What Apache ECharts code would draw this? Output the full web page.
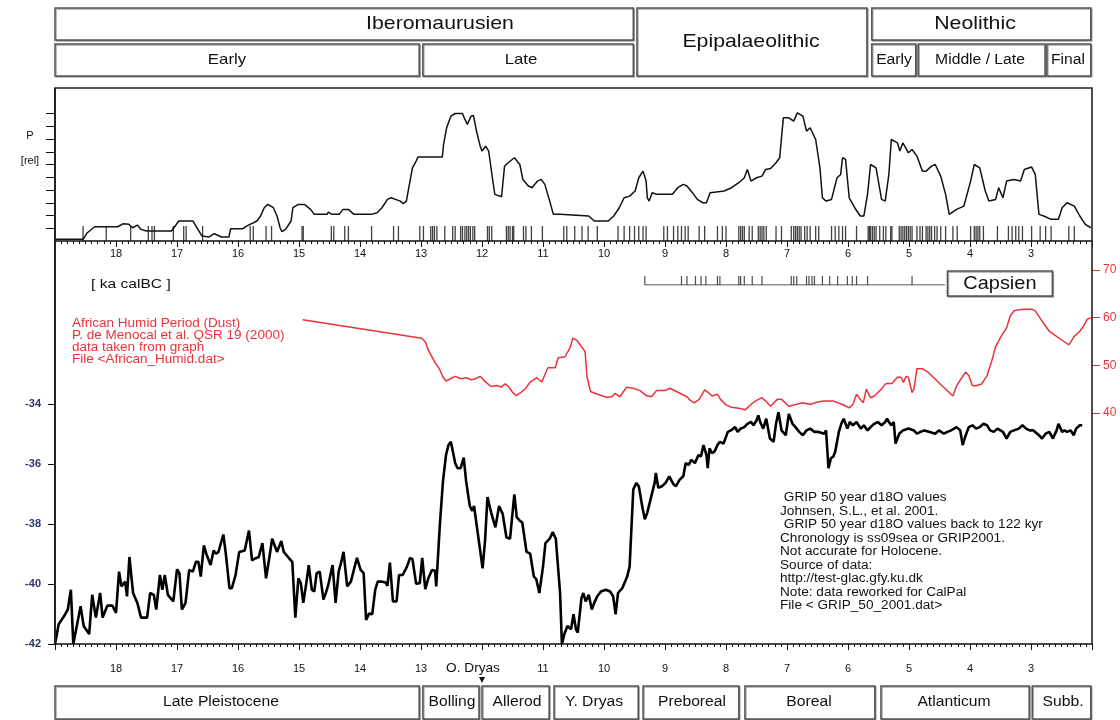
<!DOCTYPE html>
<html><head><meta charset="utf-8">
<script src="https://cdn.jsdelivr.net/npm/echarts@6/dist/echarts.min.js"></script>
<style>html,body{margin:0;padding:0;background:#fff}#c{width:1120px;height:720px}</style>
</head><body><div id="c"></div>
<script>
// ---------- DATA (ka calBC) ----------
const axisMinKa = 2, axisMaxKa = 19;
const pLabelTicks = [1,2,3,4,5,6,7,8,9,10];

// P [rel] curve (upper panel)
const pollenCurve = [[19.0,0.13],[18.54,0.13],[18.47,0.65],[18.35,1.12],[17.97,1.12],[17.94,1.04],[17.88,1.36],[17.79,1.31],[17.73,1.04],[17.65,1.25],[17.59,0.91],[17.5,0.78],[17.09,0.78],[16.97,1.57],[16.74,1.57],[16.59,0.39],[16.48,0.31],[16.39,0.57],[16.27,0.31],[16.15,0.31],[16.12,0.97],[15.92,0.97],[15.86,1.17],[15.8,1.31],[15.69,1.57],[15.63,1.96],[15.57,2.61],[15.51,2.87],[15.42,2.61],[15.36,1.96],[15.31,1.04],[15.28,0.73],[15.22,0.91],[15.13,1.57],[15.1,2.61],[15.01,2.87],[14.91,2.87],[14.81,2.48],[14.75,2.09],[14.54,2.09],[14.52,2.27],[14.46,2.09],[14.34,2.09],[14.28,2.48],[14.19,2.48],[14.1,2.09],[13.81,2.09],[13.72,2.22],[13.64,2.61],[13.55,3.26],[13.49,3.39],[13.34,3.13],[13.29,2.92],[13.24,3.13],[13.2,4.18],[13.14,5.74],[13.08,6.27],[13.05,6.58],[12.65,6.58],[12.63,7.57],[12.58,8.88],[12.51,9.79],[12.44,10.0],[12.32,10.0],[12.29,9.66],[12.24,9.14],[12.18,9.79],[12.14,9.84],[12.09,8.62],[12.03,7.44],[12.0,7.05],[11.94,7.44],[11.89,7.05],[11.83,4.96],[11.79,3.66],[11.68,3.47],[11.63,5.87],[11.59,6.06],[11.47,6.53],[11.38,6.0],[11.33,4.83],[11.24,4.31],[11.18,4.18],[11.09,4.7],[11.03,4.83],[10.97,4.44],[10.89,3.13],[10.83,2.09],[10.72,2.09],[10.25,1.96],[10.16,1.57],[9.93,1.57],[9.84,1.96],[9.75,2.61],[9.67,3.39],[9.58,3.52],[9.49,3.92],[9.43,4.96],[9.36,5.48],[9.31,4.7],[9.29,3.39],[9.26,3.13],[9.21,3.79],[9.14,3.66],[8.88,3.66],[8.79,4.18],[8.7,4.44],[8.64,4.31],[8.55,3.79],[8.47,3.26],[8.38,3.0],[8.32,3.0],[8.26,3.79],[8.03,3.92],[7.91,4.18],[7.79,4.57],[7.7,4.96],[7.65,5.61],[7.59,4.7],[7.5,4.96],[7.41,5.09],[7.35,5.61],[7.27,5.69],[7.18,6.14],[7.12,6.53],[7.06,9.66],[6.97,9.66],[6.89,9.4],[6.83,10.05],[6.74,9.79],[6.68,8.62],[6.62,8.88],[6.53,7.96],[6.46,5.74],[6.42,3.39],[6.36,3.13],[6.27,3.26],[6.18,4.96],[6.12,5.22],[6.09,6.53],[6.04,6.4],[5.98,3.39],[5.89,2.61],[5.8,1.96],[5.74,1.96],[5.68,3.66],[5.63,6.0],[5.54,5.74],[5.45,3.26],[5.39,3.13],[5.33,5.22],[5.29,7.96],[5.19,7.7],[5.15,7.05],[5.1,7.7],[5.01,6.92],[4.95,7.18],[4.87,6.66],[4.78,5.48],[4.72,5.48],[4.63,5.87],[4.57,6.0],[4.48,5.09],[4.4,3.66],[4.34,2.09],[4.22,2.48],[4.1,2.74],[3.99,4.7],[3.93,6.0],[3.84,5.74],[3.75,3.92],[3.69,3.13],[3.58,3.26],[3.53,4.18],[3.46,3.39],[3.4,4.7],[3.28,4.83],[3.17,4.7],[3.11,5.61],[2.99,5.8],[2.93,5.22],[2.87,2.09],[2.79,1.96],[2.67,1.7],[2.55,1.7],[2.49,2.61],[2.41,3.0],[2.29,2.74],[2.2,1.96],[2.11,1.31],[2.02,1.04]];

// 14C dates (bar code under the P curve)
const dateMarks = [18.54,18.16,17.76,17.47,17.41,17.37,17.06,16.89,16.85,16.58,15.8,15.75,15.54,15.45,14.95,14.93,14.47,14.43,14.25,14.19,13.81,13.45,13.37,13.02,12.96,12.84,12.81,12.78,12.74,12.61,12.48,12.44,12.35,12.32,12.28,12.25,12.22,12.19,12.15,12.12,11.91,11.88,11.84,11.6,11.57,11.54,11.5,11.48,11.32,11.28,11.19,11.01,10.66,10.61,10.48,10.36,10.26,10.11,9.77,9.67,9.58,9.5,9.43,9.36,9.31,9.02,8.96,8.86,8.79,8.73,8.67,8.62,8.44,8.35,8.14,8.06,8.0,7.79,7.76,7.73,7.7,7.62,7.57,7.47,7.44,7.41,7.38,7.34,7.18,7.09,6.93,6.89,6.86,6.83,6.8,6.77,6.71,6.67,6.62,6.53,6.48,6.27,6.21,6.15,6.09,6.04,5.86,5.67,5.65,5.63,5.6,5.57,5.54,5.48,5.42,5.38,5.3,5.28,5.16,5.13,5.1,5.07,5.04,5.01,4.98,4.95,4.87,4.82,4.78,4.72,4.69,4.66,4.63,4.58,4.54,4.48,4.4,4.28,4.21,3.99,3.93,3.9,3.87,3.84,3.78,3.55,3.37,3.31,3.25,3.2,3.14,2.99,2.85,2.76,2.67,2.38,2.29];

// Capsien dates
const capsienSpan = [9.33, 4.41];
const capsienDates = [9.33,8.73,8.64,8.5,8.41,8.33,8.14,8.1,7.79,7.76,7.7,7.57,7.41,6.93,6.89,6.84,6.68,6.64,6.59,6.55,6.42,6.3,6.17,6.01,5.93,5.86,5.68,4.95];
const capsienLabel = ['Capsien', 4.37, 2.65];

// African Humid Period (Dust), de Menocal 2000
const africanHumid = [[14.94,59.54],[12.99,55.67],[12.93,54.96],[12.88,53.19],[12.82,51.77],[12.76,50.35],[12.7,49.3],[12.64,47.54],[12.59,46.7],[12.52,47.19],[12.44,47.69],[12.35,47.19],[12.26,47.4],[12.17,46.98],[12.11,47.19],[12.03,47.69],[11.94,46.48],[11.85,45.56],[11.76,45.77],[11.68,45.42],[11.62,46.13],[11.56,45.42],[11.5,44.35],[11.44,43.65],[11.38,44.15],[11.29,45.06],[11.21,46.5],[11.1,47.4],[11.02,46.5],[10.92,49.5],[10.8,49.5],[10.75,51.6],[10.64,51.8],[10.56,53.6],[10.51,55.7],[10.45,55.3],[10.31,52.9],[10.28,47.7],[10.22,44.5],[10.12,44.0],[9.96,43.3],[9.87,43.4],[9.82,44.1],[9.74,43.4],[9.63,45.4],[9.52,45.2],[9.41,44.7],[9.3,43.6],[9.22,43.4],[9.14,44.7],[9.0,44.7],[8.92,45.2],[8.78,44.3],[8.64,43.4],[8.59,42.7],[8.52,42.14],[8.44,42.86],[8.35,44.86],[8.29,44.29],[8.23,43.57],[8.14,43.93],[8.09,42.86],[8.0,41.7],[7.91,41.2],[7.79,41.0],[7.68,40.7],[7.56,42.14],[7.47,42.86],[7.41,43.21],[7.35,42.5],[7.27,41.43],[7.16,42.86],[7.09,42.86],[6.97,41.43],[6.86,41.79],[6.74,42.14],[6.62,41.79],[6.5,42.29],[6.39,42.5],[6.24,42.5],[6.09,41.79],[5.98,41.07],[5.92,41.79],[5.86,43.93],[5.8,42.86],[5.75,42.14],[5.7,45.0],[5.63,43.21],[5.57,43.57],[5.51,44.29],[5.45,45.0],[5.39,46.07],[5.35,46.21],[5.28,46.21],[5.19,47.5],[5.13,47.5],[5.09,46.43],[5.05,47.64],[5.01,47.5],[4.95,44.29],[4.92,45.0],[4.87,49.29],[4.84,49.29],[4.78,49.29],[4.69,48.57],[4.57,47.14],[4.46,45.71],[4.34,44.29],[4.28,43.57],[4.22,45.71],[4.13,47.5],[4.07,48.57],[4.02,47.86],[3.96,45.71],[3.9,45.71],[3.81,46.07],[3.72,47.86],[3.64,51.07],[3.58,53.93],[3.49,56.07],[3.4,57.86],[3.34,60.36],[3.28,61.43],[3.2,61.64],[3.11,61.79],[2.99,61.79],[2.93,61.43],[2.82,59.29],[2.7,57.14],[2.58,56.07],[2.46,55.0],[2.38,54.29],[2.29,56.07],[2.2,57.14],[2.14,58.21],[2.08,59.64],[2.02,60.0]];

// GRIP 50 year d18O values
const gripD18O = [[19.0,-42.0],[18.94,-41.34],[18.85,-41.07],[18.79,-40.85],[18.74,-40.19],[18.7,-42.0],[18.67,-42.0],[18.58,-40.74],[18.53,-41.4],[18.44,-41.67],[18.39,-40.36],[18.33,-41.12],[18.31,-41.12],[18.26,-40.3],[18.22,-41.12],[18.14,-40.72],[18.06,-40.72],[18.0,-40.96],[17.95,-39.59],[17.91,-40.08],[17.85,-39.92],[17.82,-40.41],[17.78,-39.1],[17.72,-40.3],[17.65,-40.63],[17.59,-41.12],[17.49,-41.12],[17.44,-40.3],[17.38,-40.36],[17.34,-40.85],[17.28,-39.7],[17.24,-40.19],[17.2,-39.7],[17.15,-40.36],[17.06,-40.58],[17.0,-39.51],[16.96,-39.64],[16.92,-40.85],[16.86,-40.63],[16.8,-39.53],[16.74,-39.59],[16.69,-39.26],[16.65,-39.26],[16.61,-39.75],[16.56,-38.71],[16.52,-38.99],[16.45,-39.37],[16.4,-38.88],[16.36,-38.99],[16.32,-38.93],[16.24,-38.35],[16.2,-38.99],[16.14,-40.14],[16.1,-40.14],[16.04,-39.7],[15.98,-38.93],[15.89,-38.88],[15.82,-38.22],[15.77,-39.21],[15.72,-39.15],[15.66,-39.1],[15.6,-38.64],[15.54,-39.81],[15.48,-39.04],[15.44,-38.49],[15.41,-38.46],[15.36,-38.93],[15.29,-38.57],[15.25,-38.93],[15.16,-39.15],[15.11,-39.26],[15.06,-41.12],[15.01,-39.81],[14.97,-39.97],[14.93,-40.63],[14.88,-39.97],[14.84,-39.37],[14.79,-40.19],[14.75,-40.25],[14.71,-39.64],[14.66,-39.59],[14.6,-40.52],[14.56,-40.3],[14.52,-40.03],[14.45,-39.37],[14.4,-40.63],[14.35,-39.59],[14.31,-39.29],[14.27,-38.93],[14.21,-40.08],[14.15,-39.92],[14.05,-39.13],[13.99,-39.53],[13.94,-39.64],[13.9,-41.2],[13.85,-40.98],[13.8,-41.01],[13.75,-40.19],[13.71,-39.92],[13.65,-39.92],[13.58,-39.95],[13.55,-40.06],[13.51,-39.29],[13.46,-40.58],[13.4,-40.58],[13.36,-39.7],[13.3,-39.7],[13.23,-39.42],[13.18,-39.13],[13.14,-39.17],[13.08,-39.99],[13.02,-39.97],[12.98,-39.13],[12.93,-40.17],[12.88,-39.81],[12.82,-39.53],[12.77,-39.56],[12.75,-40.08],[12.69,-38.0],[12.64,-36.58],[12.59,-35.7],[12.55,-35.37],[12.51,-35.26],[12.48,-35.21],[12.44,-35.97],[12.4,-36.14],[12.35,-36.14],[12.3,-35.79],[12.26,-36.58],[12.2,-37.4],[12.16,-37.56],[12.13,-37.4],[12.06,-38.44],[11.99,-39.48],[11.95,-38.55],[11.91,-37.1],[11.85,-37.62],[11.78,-38.11],[11.72,-37.4],[11.66,-37.67],[11.6,-38.44],[11.54,-38.49],[11.47,-37.01],[11.43,-37.78],[11.38,-37.89],[11.34,-37.95],[11.27,-38.93],[11.21,-38.99],[11.15,-39.75],[11.11,-39.84],[11.06,-40.3],[11.0,-39.42],[10.96,-38.64],[10.89,-38.49],[10.84,-38.27],[10.79,-38.49],[10.72,-40.3],[10.69,-42.0],[10.65,-41.67],[10.6,-41.4],[10.54,-41.51],[10.5,-41.01],[10.46,-41.51],[10.43,-41.62],[10.37,-40.47],[10.34,-40.3],[10.3,-40.58],[10.25,-40.36],[10.2,-40.85],[10.16,-40.63],[10.11,-40.41],[10.05,-40.25],[9.97,-40.19],[9.9,-40.25],[9.85,-40.41],[9.81,-41.01],[9.77,-40.3],[9.7,-40.14],[9.62,-39.75],[9.58,-39.42],[9.52,-36.85],[9.47,-36.63],[9.43,-36.74],[9.37,-37.45],[9.33,-37.84],[9.29,-37.62],[9.23,-37.12],[9.17,-36.63],[9.15,-36.3],[9.11,-36.79],[9.05,-36.74],[8.99,-36.63],[8.93,-36.41],[8.86,-36.68],[8.82,-36.74],[8.76,-36.52],[8.7,-36.41],[8.66,-35.97],[8.61,-36.03],[8.57,-35.86],[8.51,-35.97],[8.45,-35.7],[8.41,-35.75],[8.37,-35.37],[8.32,-35.7],[8.3,-36.14],[8.27,-35.48],[8.23,-35.64],[8.19,-35.59],[8.14,-35.37],[8.1,-35.26],[8.04,-35.32],[7.97,-34.93],[7.92,-34.88],[7.85,-34.77],[7.81,-34.93],[7.76,-34.82],[7.7,-34.77],[7.65,-34.66],[7.59,-34.6],[7.55,-34.71],[7.5,-34.55],[7.47,-34.38],[7.44,-34.6],[7.39,-34.82],[7.34,-34.49],[7.28,-35.15],[7.22,-35.26],[7.18,-34.66],[7.14,-34.27],[7.09,-34.88],[7.02,-35.04],[6.97,-34.33],[6.91,-34.66],[6.86,-34.77],[6.8,-34.93],[6.74,-35.04],[6.68,-34.88],[6.62,-34.82],[6.55,-34.93],[6.48,-34.93],[6.39,-34.99],[6.36,-34.88],[6.32,-36.14],[6.28,-35.81],[6.24,-35.75],[6.21,-35.59],[6.15,-34.93],[6.11,-34.66],[6.07,-34.49],[6.01,-34.82],[5.97,-34.6],[5.92,-34.71],[5.86,-34.6],[5.79,-34.82],[5.74,-34.71],[5.68,-34.88],[5.63,-34.77],[5.57,-34.66],[5.51,-34.6],[5.45,-34.71],[5.39,-34.6],[5.36,-34.49],[5.33,-34.6],[5.29,-34.71],[5.25,-34.6],[5.22,-35.32],[5.16,-34.99],[5.1,-34.88],[5.01,-34.82],[4.92,-34.88],[4.87,-34.99],[4.81,-34.93],[4.75,-34.88],[4.66,-34.93],[4.57,-34.99],[4.51,-34.88],[4.43,-34.99],[4.37,-34.93],[4.31,-34.88],[4.22,-34.77],[4.16,-34.88],[4.12,-35.37],[4.07,-35.04],[4.02,-34.77],[3.96,-34.71],[3.9,-34.82],[3.84,-34.77],[3.78,-34.66],[3.72,-34.71],[3.67,-34.88],[3.61,-34.93],[3.55,-34.82],[3.46,-34.93],[3.4,-35.15],[3.34,-34.93],[3.28,-34.88],[3.2,-34.82],[3.14,-34.71],[3.08,-34.82],[3.02,-34.88],[2.96,-34.88],[2.87,-35.04],[2.82,-35.15],[2.76,-34.99],[2.7,-34.93],[2.64,-35.15],[2.58,-34.88],[2.55,-34.66],[2.49,-34.93],[2.45,-34.88],[2.41,-34.93],[2.35,-34.88],[2.3,-35.04],[2.26,-34.82],[2.2,-34.71],[2.16,-34.71]];

// Cultural periods (name, from ka, to ka)
const cultureMain = [['Iberomaurusien',19,9.52],['Epipalaeolithic',9.46,5.69],['Neolithic',5.61,2.02]];
const cultureSub = [['Early',19,13.03],['Late',12.97,9.52],['Early',5.61,4.89],['Middle / Late',4.85,2.77],['Final',2.74,2.02]];
// Climate periods
const climatePeriods = [['Late Pleistocene',19,13.03],['Bolling',12.97,12.05],['Allerod',12.0,10.9],['Y. Dryas',10.82,9.44],['Preboreal',9.36,7.79],['Boreal',7.69,5.56],['Atlanticum',5.46,3.03],['Subb.',2.98,2.02]];
const oDryas = ['O. Dryas', 12.0];

const humidNotes = ['African Humid Period (Dust)','P. de Menocal et al. QSR 19 (2000)','data taken from graph','File <African_Humid.dat>'];
const gripNotes = [' GRIP 50 year d18O values','Johnsen, S.L., et al. 2001.',' GRIP 50 year d18O values back to 122 kyr','Chronology is ss09sea or GRIP2001.','Not accurate for Holocene.','Source of data:','http://test-glac.gfy.ku.dk','Note: data reworked for CalPal','File < GRIP_50_2001.dat>'];

// ---------- LAYOUT ----------
const FONT = '"Liberation Sans", Arial, sans-serif';
const RED = '#e8333a';
const L = 55, W = 1037;
// label centre x (px) for the period boxes, as placed in the original figure
const mainLabelX = [440, 751, 975];
const subLabelX = [227, 521, 894, 980, 1068];
const climateLabelX = [221, 452, 517, 594, 692, 809, 954, 1063];

const chart = echarts.init(document.getElementById('c'), null, {renderer:'canvas'});
function xAx(grid, show, labelMargin, hide12){
  return {gridIndex:grid, type:'value', min:axisMinKa, max:axisMaxKa, interval:1, inverse:true, show:show,
    axisLine:{show:true, onZero:false, lineStyle:{color:'#111', width:1.5}},
    axisTick:{show:true, length:6, lineStyle:{color:'#111', width:1}},
    minorTick:{show:true, splitNumber:10, length:3, lineStyle:{color:'#111', width:1}},
    splitLine:{show:false},
    axisLabel:{show:true, margin:labelMargin, fontFamily:FONT, fontSize:11, color:'#111',
      formatter:v => (v<3 || v>18 || (hide12 && v===12)) ? '' : String(v)}};
}
const option = {
  animation:false,
  backgroundColor:'#fff',
  grid:[
    {left:L, width:W, top:88, height:153},
    {left:L, width:W, top:275, height:10},
    {left:L, width:W, top:270, height:143},
    {left:L, width:W, top:404, height:240}
  ],
  xAxis:[xAx(0,true,7,false), xAx(1,false,0,false), xAx(2,false,0,false), xAx(3,true,19,true)],
  yAxis:[
    {gridIndex:0, type:'value', min:0, max:12, position:'left',
      axisLine:{show:false}, splitLine:{show:false}, axisLabel:{show:false},
      axisTick:{show:true, length:9, customValues:pLabelTicks, lineStyle:{color:'#111'}}},
    {gridIndex:1, type:'value', min:0, max:1, show:false},
    {gridIndex:2, type:'value', min:40, max:70, interval:10, position:'right',
      axisLine:{show:false}, splitLine:{show:false},
      axisTick:{show:true, length:8, lineStyle:{color:RED, width:1}},
      axisLabel:{color:RED, fontFamily:FONT, fontSize:12, margin:11}},
    {gridIndex:3, type:'value', min:-42, max:-34, interval:2, position:'left',
      axisLine:{show:false}, splitLine:{show:false},
      axisTick:{show:true, length:7, lineStyle:{color:'#111'}},
      axisLabel:{color:'#2d3270', fontWeight:'bold', fontFamily:FONT, fontSize:11, margin:14}}
  ],
  series:[
    {type:'line', xAxisIndex:0, yAxisIndex:0, data:pollenCurve, showSymbol:false, silent:true,
      lineStyle:{color:'#111', width:1.5}, z:3},
    {type:'scatter', xAxisIndex:0, yAxisIndex:0, data:dateMarks.map(k=>[k,0]), symbol:'rect',
      symbolSize:[1.3,15], symbolOffset:[0,-7.5], itemStyle:{color:'#111'}, silent:true, z:2},
    {type:'line', xAxisIndex:1, yAxisIndex:1, data:capsienSpan.map(k=>[k,0]), showSymbol:false, silent:true,
      lineStyle:{color:'#222', width:1}},
    {type:'scatter', xAxisIndex:1, yAxisIndex:1, data:capsienDates.map(k=>[k,0]), symbol:'rect',
      symbolSize:[1.2,9], symbolOffset:[0,-4.5], itemStyle:{color:'#222'}, silent:true},
    {type:'line', xAxisIndex:2, yAxisIndex:2, data:africanHumid, showSymbol:false, silent:true,
      lineStyle:{color:RED, width:1.5}, z:3},
    {type:'line', xAxisIndex:3, yAxisIndex:3, data:gripD18O, showSymbol:false, silent:true,
      lineStyle:{color:'#000', width:2.6}, z:4}
  ]
};
chart.setOption(option);

const px = v => chart.convertToPixel({xAxisIndex:0}, v);
const g = [];
function txt(t, x, y, fs, opts){
  opts = opts || {};
  g.push({type:'text', x:x, y:y, scaleX:opts.sx||1, z:opts.z||11,
    style:{text:t, fontFamily:FONT, fontSize:fs, fill:opts.fill||'#111', fontWeight:opts.fw||'normal',
      align:opts.align||'center', verticalAlign:'middle'}});
}
function box(name, a, b, y0, y1, fs, lx, sx){
  const x0 = px(a), x1 = px(b);
  g.push({type:'rect', shape:{x:x0, y:y0, width:x1-x0, height:y1-y0},
    style:{fill:'#fff', stroke:'#555', lineWidth:1.5, shadowColor:'rgba(0,0,0,0.35)', shadowOffsetX:1, shadowOffsetY:1}, z:10});
  txt(name, lx==null ? (x0+x1)/2 : lx, (y0+y1)/2, fs, {sx:sx||1.12});
}
cultureMain.forEach((c,i)=>{ box(c[0],c[1],c[2],8, i===1?76:40, 19, mainLabelX[i]); });
cultureSub.forEach((c,i)=> box(c[0],c[1],c[2],44,76, i<2?15:14, subLabelX[i]));
climatePeriods.forEach((c,i)=> box(c[0],c[1],c[2],686,719,14, climateLabelX[i]));
box(capsienLabel[0], capsienLabel[1], capsienLabel[2], 271, 296, 19, null, 1.05);

// frame
g.push({type:'polyline', shape:{points:[[L,644],[L,88],[L+W,88],[L+W,644]]}, style:{stroke:'#222', lineWidth:1.6, fill:null}, z:9});
g.push({type:'line', shape:{x1:L, y1:88, x2:L, y2:644}, style:{stroke:'#222', lineWidth:2}, z:9});

// texts
txt('P', 30, 136, 11);
txt('[rel]', 30, 161, 11);
txt('[ ka calBC ]', 91, 284, 13, {align:'left', sx:1.2});
humidNotes.forEach((t,i)=> txt(t, 72, 323+i*12, 13, {align:'left', sx:1.04, fill:RED}));
gripNotes.forEach((t,i)=> txt(t, 780, 498+i*13.5, 12.5, {align:'left', sx:1.09}));
// O. Dryas
const od = px(oDryas[1]);
txt(oDryas[0], od-9, 668, 13, {sx:1.05});
g.push({type:'polygon', shape:{points:[[od-3,677],[od+3,677],[od,683]]}, style:{fill:'#111'}});

chart.setOption({graphic:g});
</script>
</body></html>
